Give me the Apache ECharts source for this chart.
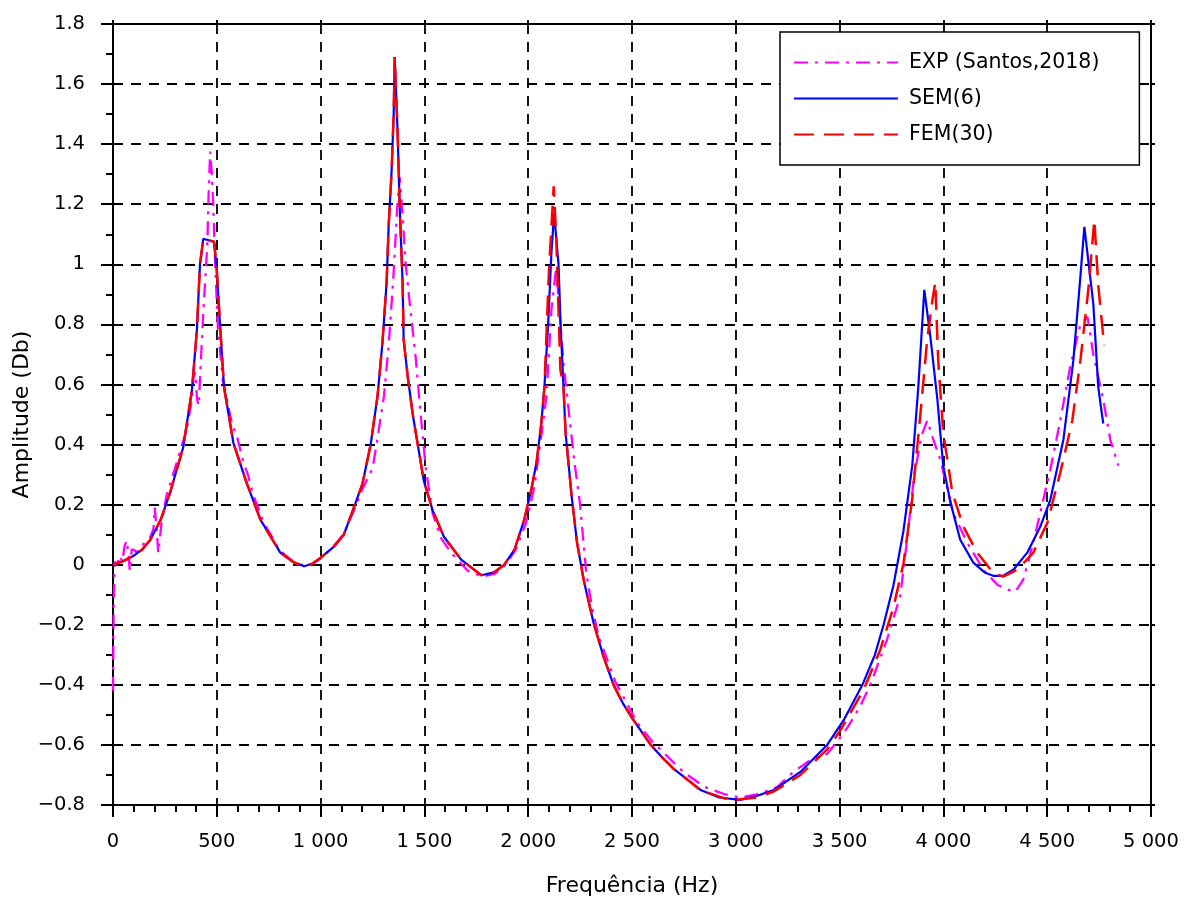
<!DOCTYPE html>
<html>
<head>
<meta charset="utf-8">
<script src="https://cdn.jsdelivr.net/npm/echarts@6/dist/echarts.min.js"></script>
<style>
html,body{margin:0;padding:0;background:#fff;}
#chart{width:1192px;height:902px;}
</style>
</head>
<body>
<div id="chart"></div>
<script>
// ---- Data ----
const expFreq = [0,4,8,20,32,45,55,66,75,81,90,100,115,129,150,178,195,201,210,218,234,258,307,355,380,387,396,405,413,425,435,454,460,468,476,483,492,506,530,573,600,628,650,676,700,725,760,800,850,900,950,1000,1060,1110,1160,1200,1250,1274,1305,1328,1350,1370,1381,1395,1410,1434,1458,1482,1507,1540,1579,1628,1709,1780,1840,1890,1940,1990,2030,2063,2088,2112,2135,2150,2170,2194,2223,2250,2280,2310,2340,2420,2524,2600,2747,2850,2950,3020,3100,3200,3277,3360,3439,3487,3540,3600,3648,3728,3792,3825,3860,3895,3922,3950,3985,4048,4115,4193,4260,4308,4346,4385,4433,4481,4515,4563,4611,4660,4694,4722,4770,4804,4843];
const expAmp  = [-0.42,-0.1,0.01,0.0,0.03,0.01,0.06,0.08,0.03,-0.02,0.05,0.05,0.04,0.06,0.07,0.09,0.12,0.19,0.12,0.04,0.14,0.23,0.34,0.45,0.55,0.62,0.64,0.55,0.53,0.70,0.84,1.06,1.22,1.375,1.3,1.2,1.0,0.78,0.61,0.47,0.42,0.34,0.30,0.23,0.19,0.14,0.10,0.05,0.02,0.0,0.0,0.02,0.06,0.10,0.18,0.25,0.32,0.42,0.56,0.73,0.95,1.2,1.29,1.16,1.0,0.84,0.69,0.50,0.32,0.17,0.09,0.04,-0.02,-0.04,-0.03,0.0,0.05,0.14,0.26,0.43,0.56,0.85,0.99,0.85,0.67,0.52,0.34,0.20,-0.03,-0.15,-0.24,-0.39,-0.525,-0.59,-0.69,-0.74,-0.765,-0.775,-0.765,-0.74,-0.69,-0.65,-0.63,-0.59,-0.54,-0.47,-0.40,-0.25,-0.105,0.083,0.30,0.43,0.48,0.42,0.35,0.17,0.073,-0.017,-0.067,-0.083,-0.09,-0.05,0.073,0.216,0.316,0.48,0.66,0.80,0.825,0.70,0.55,0.416,0.33];

const semFreq = [0,50,100,140,180,230,275,338,380,404,419,435,487,500,515,535,580,645,710,806,870,920,960,1000,1064,1112,1160,1202,1241,1274,1298,1318,1328,1342,1352,1357,1371,1381,1395,1400,1419,1444,1468,1497,1540,1594,1677,1774,1837,1885,1934,1981,2015,2040,2063,2078,2096,2112,2125,2146,2156,2170,2180,2209,2235,2267,2315,2360,2411,2455,2500,2545,2591,2650,2701,2830,2920,3020,3100,3183,3311,3440,3521,3610,3670,3712,3759,3807,3850,3879,3908,3937,3971,3999,4033,4081,4144,4201,4240,4288,4337,4404,4467,4515,4578,4626,4660,4679,4722,4746,4770];
const semAmp  = [0.0,0.012,0.03,0.05,0.083,0.15,0.24,0.39,0.58,0.78,1.0,1.085,1.075,0.98,0.805,0.59,0.405,0.27,0.15,0.04,0.008,-0.005,0.003,0.023,0.06,0.10,0.19,0.27,0.40,0.56,0.74,0.94,1.13,1.31,1.50,1.69,1.44,1.19,0.94,0.75,0.63,0.50,0.40,0.28,0.18,0.093,0.017,-0.035,-0.025,0.0,0.05,0.15,0.25,0.34,0.47,0.59,0.80,1.04,1.17,1.0,0.80,0.59,0.44,0.23,0.075,-0.05,-0.194,-0.30,-0.40,-0.46,-0.51,-0.555,-0.60,-0.645,-0.68,-0.75,-0.775,-0.783,-0.77,-0.75,-0.69,-0.60,-0.516,-0.40,-0.30,-0.20,-0.07,0.11,0.33,0.59,0.915,0.76,0.55,0.33,0.21,0.083,0.007,-0.027,-0.037,-0.037,-0.017,0.04,0.127,0.216,0.416,0.68,0.96,1.125,0.87,0.59,0.47];

const femFreq = [0,50,100,140,180,230,275,338,380,404,419,435,487,500,515,535,580,645,710,806,870,920,960,1000,1064,1112,1160,1202,1241,1274,1298,1318,1328,1342,1352,1357,1371,1381,1395,1400,1419,1444,1468,1497,1540,1594,1677,1774,1837,1885,1934,1981,2015,2040,2063,2078,2100,2123,2135,2145,2155,2170,2180,2209,2235,2267,2315,2360,2411,2455,2500,2545,2591,2650,2701,2830,2975,3100,3183,3311,3440,3505,3616,3696,3760,3808,3850,3889,3922,3947,3961,3975,3999,4043,4096,4163,4240,4288,4356,4433,4501,4563,4621,4660,4698,4727,4746,4770,4775];
const femAmp  = [0.0,0.012,0.03,0.05,0.083,0.15,0.24,0.39,0.58,0.78,1.0,1.085,1.075,0.98,0.805,0.59,0.405,0.27,0.15,0.04,0.008,-0.005,0.003,0.023,0.06,0.10,0.19,0.27,0.40,0.56,0.74,0.94,1.13,1.31,1.50,1.69,1.44,1.19,0.94,0.75,0.63,0.50,0.40,0.28,0.18,0.093,0.017,-0.035,-0.025,0.0,0.05,0.15,0.25,0.34,0.47,0.59,0.98,1.26,1.09,0.87,0.65,0.59,0.44,0.23,0.075,-0.05,-0.194,-0.30,-0.40,-0.46,-0.51,-0.555,-0.60,-0.645,-0.68,-0.75,-0.785,-0.775,-0.755,-0.70,-0.615,-0.55,-0.416,-0.283,-0.14,0.005,0.22,0.50,0.75,0.88,0.94,0.68,0.44,0.24,0.127,0.04,-0.027,-0.04,-0.017,0.04,0.14,0.306,0.48,0.68,0.915,1.148,0.93,0.76,0.73];

const seriesNames = ['EXP (Santos,2018)', 'SEM(6)', 'FEM(30)'];
const xTitle = 'Frequência (Hz)';
const yTitle = 'Amplitude (Db)';

const zip = (xs, ys) => xs.map((x, i) => [x, ys[i]]);
const FONT = 'DejaVu Sans';

const chart = echarts.init(document.getElementById('chart'), null, {renderer: 'canvas'});

const xLabelFmt = v => String(Math.round(v)).replace(/\B(?=(\d{3})+(?!\d))/g, ' ');
const yLabelFmt = v => String(Math.round(v * 10) / 10).replace('-', '\u2212');

const axisLineStyle = {color: '#000', width: 2};

chart.setOption({
  animation: false,
  backgroundColor: '#fff',
  grid: {left: 113, right: 41, top: 24, bottom: 97, containLabel: false, outerBoundsMode: 'none'},
  legend: {
    orient: 'vertical',
    left: 780,
    top: 32,
    padding: [20, 40, 20, 13],
    itemWidth: 104,
    itemHeight: 20,
    itemGap: 15,
    itemStyle: {color: 'transparent', borderColor: 'transparent', borderWidth: 0, opacity: 0},
    textStyle: {fontFamily: FONT, fontSize: 20.5, color: '#000', padding: [0, 0, 0, 6]},
    borderColor: '#000',
    borderWidth: 1.5,
    backgroundColor: '#fff',
    data: seriesNames
  },
  xAxis: [{
    type: 'value', min: 0, max: 5000, interval: 500,
    name: xTitle, nameLocation: 'middle', nameGap: 70, nameMoveOverlap: false,
    nameTextStyle: {fontFamily: FONT, fontSize: 22, color: '#000'},
    axisLine: {show: true, onZero: false, lineStyle: axisLineStyle},
    axisTick: {show: true, length: 12, lineStyle: {color: '#000', width: 2}},
    minorTick: {show: true, splitNumber: 5, length: 7, lineStyle: {color: '#000', width: 2}},
    axisLabel: {fontFamily: FONT, fontSize: 19.5, color: '#000', margin: 27, formatter: xLabelFmt},
    splitLine: {show: true, lineStyle: {color: '#000', width: 1.8, type: [10, 8]}}
  }, {
    type: 'value', min: 0, max: 5000, interval: 500, position: 'top',
    axisLine: {show: true, onZero: false, lineStyle: axisLineStyle},
    axisTick: {show: true, length: 4, lineStyle: {color: '#000', width: 2}},
    axisLabel: {show: false}, splitLine: {show: false}
  }],
  yAxis: [{
    type: 'value', min: -0.8, max: 1.8, interval: 0.2,
    name: yTitle, nameLocation: 'middle', nameGap: 80, nameMoveOverlap: false,
    nameTextStyle: {fontFamily: FONT, fontSize: 22, color: '#000'},
    axisLine: {show: true, onZero: false, lineStyle: axisLineStyle},
    axisTick: {show: true, length: 12, lineStyle: {color: '#000', width: 2}},
    minorTick: {show: true, splitNumber: 2, length: 7, lineStyle: {color: '#000', width: 2}},
    axisLabel: {fontFamily: FONT, fontSize: 19.5, color: '#000', margin: 28, formatter: yLabelFmt},
    splitLine: {show: true, lineStyle: {color: '#000', width: 1.8, type: [10, 8]}}
  }, {
    type: 'value', min: -0.8, max: 1.8, interval: 0.2, position: 'right',
    axisLine: {show: true, onZero: false, lineStyle: axisLineStyle},
    axisTick: {show: true, length: 4, lineStyle: {color: '#000', width: 2}},
    axisLabel: {show: false}, splitLine: {show: false}
  }],
  series: [{
    name: seriesNames[0], type: 'line', symbol: 'none', showSymbol: false,
    data: zip(expFreq, expAmp), z: 3,
    lineStyle: {color: '#FF00FF', width: 2.3, type: [14, 7, 3, 7]},
    itemStyle: {color: '#FF00FF'}
  }, {
    name: seriesNames[1], type: 'line', symbol: 'none', showSymbol: false,
    data: zip(semFreq, semAmp), z: 4,
    lineStyle: {color: '#0000FF', width: 2.2},
    itemStyle: {color: '#0000FF'}
  }, {
    name: seriesNames[2], type: 'line', symbol: 'none', showSymbol: false,
    data: zip(femFreq, femAmp), z: 5,
    lineStyle: {color: '#FF0000', width: 2.5, type: [20, 10]},
    itemStyle: {color: '#FF0000'}
  }]
});
</script>
</body>
</html>
